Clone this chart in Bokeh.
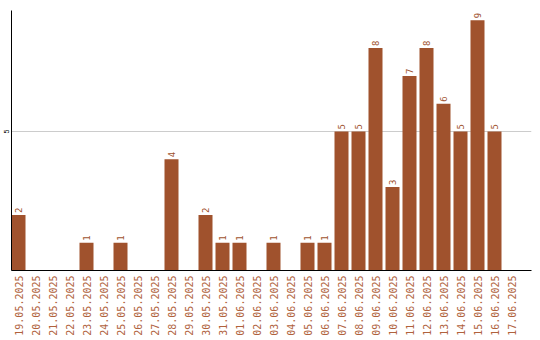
import math
from bokeh.plotting import figure
from bokeh.models import Range1d, FixedTicker, ColumnDataSource
from bokeh.core.properties import value
from bokeh.embed import file_html
from bokeh.resources import INLINE

dates = ["19.05.2025", "20.05.2025", "21.05.2025", "22.05.2025", "23.05.2025",
         "24.05.2025", "25.05.2025", "26.05.2025", "27.05.2025", "28.05.2025",
         "29.05.2025", "30.05.2025", "31.05.2025", "01.06.2025", "02.06.2025",
         "03.06.2025", "04.06.2025", "05.06.2025", "06.06.2025", "07.06.2025",
         "08.06.2025", "09.06.2025", "10.06.2025", "11.06.2025", "12.06.2025",
         "13.06.2025", "14.06.2025", "15.06.2025", "16.06.2025", "17.06.2025"]
counts = [2, 0, 0, 0, 1, 0, 1, 0, 0, 4,
          0, 2, 1, 1, 0, 1, 0, 1, 1, 5,
          5, 8, 3, 7, 8, 6, 5, 9, 5, 0]
y_ticks = [5]

BAR = "#A0522D"

idx = list(range(len(dates)))
src = ColumnDataSource(dict(x=idx, y=counts))
nz = [i for i in idx if counts[i] > 0]
lsrc = ColumnDataSource(dict(x=[idx[i] for i in nz], y=[counts[i] for i in nz],
                             lbl=[str(counts[i]) for i in nz]))

p = figure(frame_width=520, frame_height=260, output_backend="svg",
           toolbar_location=None,
           x_range=Range1d(-7 / 17, (520 - 7) / 17),
           y_range=Range1d(0, 260 / 27.8),
           min_border_left=10, min_border_right=10, min_border_top=10,
           min_border_bottom=70)
p.outline_line_color = None
p.background_fill_color = "white"
p.border_fill_color = "white"

p.vbar(x="x", top="y", width=14 / 17, source=src, fill_color=BAR,
       line_color=None)
p.text(x="x", y="y", text="lbl", source=lsrc, angle=math.pi / 2,
       text_align="left", text_baseline="middle", y_offset=-2,
       text_color=BAR, text_font=value("DejaVu Sans Mono"),
       text_font_size="9px")

p.xgrid.grid_line_color = None
p.ygrid.ticker = FixedTicker(ticks=y_ticks)
p.ygrid.grid_line_color = "#cccccc"

p.yaxis.ticker = FixedTicker(ticks=y_ticks)
p.yaxis.major_tick_line_color = None
p.yaxis.minor_tick_line_color = None
p.yaxis.major_tick_out = 0
p.yaxis.major_tick_in = 0
p.yaxis.minor_tick_out = 0
p.yaxis.axis_line_color = "black"
p.yaxis.major_label_orientation = "vertical"
p.yaxis.major_label_text_font_size = "7px"
p.yaxis.major_label_text_color = "black"
p.yaxis.major_label_standoff = 3

p.xaxis.ticker = FixedTicker(ticks=idx)
p.xaxis.major_label_overrides = {i: d for i, d in zip(idx, dates)}
p.xaxis.major_label_orientation = math.pi / 2
p.xaxis.major_tick_line_color = None
p.xaxis.minor_tick_line_color = None
p.xaxis.major_tick_out = 0
p.xaxis.major_tick_in = 0
p.xaxis.minor_tick_out = 0
p.xaxis.axis_line_color = "black"
p.xaxis.major_label_text_color = "#B0623D"
p.xaxis.major_label_text_font = "DejaVu Sans Mono"
p.xaxis.major_label_text_font_size = "10px"
p.xaxis.major_label_standoff = 5

open("out.html", "w").write(file_html(p, INLINE))
